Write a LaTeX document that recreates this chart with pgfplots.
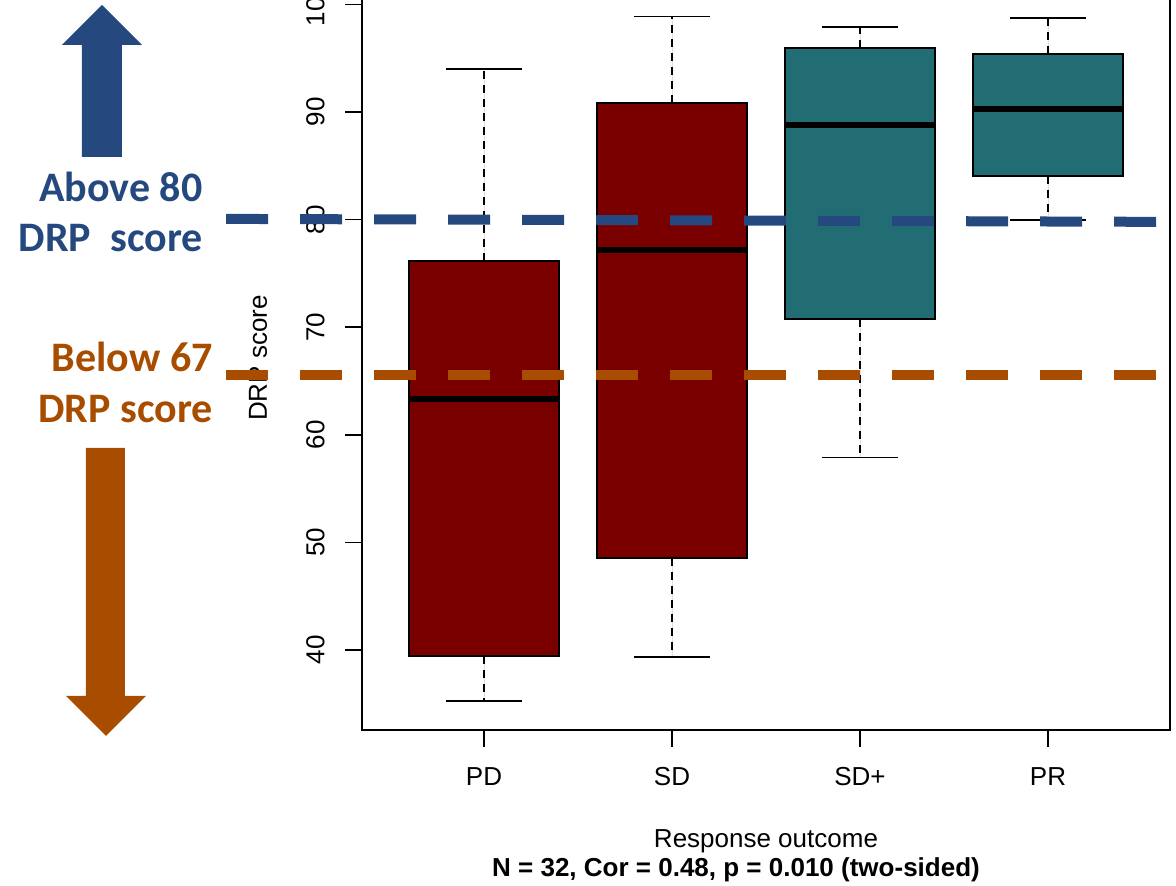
\documentclass[border=0pt]{standalone}
\usepackage{fontspec}
\setmainfont{Liberation Sans}
\newfontfamily\carlito{Carlito}
\usepackage{pgfplots}
\pgfplotsset{compat=1.18}
\usepgfplotslibrary{statistics}

\definecolor{boxred}{HTML}{7A0000}
\definecolor{boxteal}{HTML}{226D74}
\definecolor{lblue}{HTML}{25497F}
\definecolor{lorange}{HTML}{A84C00}

\pgfplotsset{
  boxplot/draw/lower whisker/.code={%
    \draw[black,line width=0.65pt,dash pattern=on 4pt off 3pt]
      (boxplot box cs:\pgfplotsboxplotvalue{lower quartile},0.5) --
      (boxplot box cs:\pgfplotsboxplotvalue{lower whisker},0.5);
    \draw[black,line width=0.65pt,solid]
      (boxplot whisker cs:\pgfplotsboxplotvalue{lower whisker},0) --
      (boxplot whisker cs:\pgfplotsboxplotvalue{lower whisker},1);
  },
  boxplot/draw/upper whisker/.code={%
    \draw[black,line width=0.65pt,dash pattern=on 4pt off 3pt]
      (boxplot box cs:\pgfplotsboxplotvalue{upper quartile},0.5) --
      (boxplot box cs:\pgfplotsboxplotvalue{upper whisker},0.5);
    \draw[black,line width=0.65pt,solid]
      (boxplot whisker cs:\pgfplotsboxplotvalue{upper whisker},0) --
      (boxplot whisker cs:\pgfplotsboxplotvalue{upper whisker},1);
  },
  boxplot/every median/.style={draw=black,line width=3pt},
}

\begin{document}
\begin{tikzpicture}
\begin{scope}[shift={(-181pt,365pt)},x=0.5pt,y=-0.5pt]
  % arrows
  \fill[lblue] (82,157) -- (82,45) -- (62,45) -- (102,5) -- (142,45) -- (122,45) -- (122,157) -- cycle;
  \fill[lorange] (86,448) -- (86,696) -- (66,696) -- (106,736) -- (146,696) -- (125,696) -- (125,448) -- cycle;
  % annotation texts
  \node[anchor=base east,text=lblue,inner sep=0pt,font=\carlito\bfseries\fontsize{21}{25}\selectfont] at (203,202) {Above 80};
  \node[anchor=base east,text=lblue,inner sep=0pt,font=\carlito\bfseries\fontsize{21}{25}\selectfont] at (203,252) {DRP\ \ score};
  \node[anchor=base east,text=lorange,inner sep=0pt,font=\carlito\bfseries\fontsize{21}{25}\selectfont] at (213,372) {Below 67};
  \node[anchor=base east,text=lorange,inner sep=0pt,font=\carlito\bfseries\fontsize{21}{25}\selectfont] at (213,423) {DRP score};
  % y label
  \node[rotate=90,inner sep=0pt,font=\fontsize{13}{15}\selectfont] at (258,358) {DRP score};
  % footer
  \node[anchor=base,inner sep=0pt,font=\bfseries\fontsize{13}{16}\selectfont] at (736,877) {N = 32, Cor = 0.48, p = 0.010 (two-sided)};
\end{scope}

\begin{axis}[
  at={(0,0)}, anchor=south west,
  scale only axis, width=404pt, height=370.9pt,
  xmin=0.351, xmax=4.649, ymin=32.565, ymax=101.5,
  xtick={1,2,3,4}, xticklabels={PD,SD,SD+,PR},
  ytick={40,50,...,100},
  tick align=outside, xtick pos=bottom, ytick pos=left,
  major tick length=8.5pt,
  every tick/.style={black,line width=0.75pt},
  axis line style={black,line width=0.75pt},
  /pgf/number format/assume math mode=true,
  ticklabel style={font=\fontsize{13}{15}\selectfont,inner sep=0pt},
  xticklabel shift=10pt, yticklabel shift=10pt,
  xticklabel style={anchor=north},
  yticklabel style={rotate=90,anchor=south},
  xlabel={Response outcome},
  xlabel style={at={(axis description cs:0.5,0)},anchor=base,yshift=-59pt,font=\fontsize{13}{15}\selectfont,inner sep=0pt},
  boxplot/draw direction=y,
  boxplot/box extend=0.8,
  boxplot/whisker extend=0.4,
]
\addplot[draw=black,fill=boxred,line width=1pt,
  boxplot prepared={draw position=1,lower whisker=35.26,lower quartile=39.44,median=63.33,upper quartile=76.15,upper whisker=94.0}]
  coordinates {};
\addplot[draw=black,fill=boxred,line width=1pt,
  boxplot prepared={draw position=2,lower whisker=39.35,lower quartile=48.55,median=77.17,upper quartile=90.84,upper whisker=98.9}]
  coordinates {};
\addplot[draw=black,fill=boxteal,line width=1pt,
  boxplot prepared={draw position=3,lower whisker=57.9,lower quartile=70.76,median=88.8,upper quartile=95.95,upper whisker=97.9}]
  coordinates {};
\addplot[draw=black,fill=boxteal,line width=1pt,
  boxplot prepared={draw position=4,lower whisker=79.96,lower quartile=84.05,median=90.28,upper quartile=95.4,upper whisker=98.74}]
  coordinates {};
\end{axis}

\begin{axis}[
  at={(0,0)}, anchor=south west,
  scale only axis, width=404pt, height=370.9pt,
  xmin=0.351, xmax=4.649, ymin=32.565, ymax=101.5,
  hide axis, clip=false,
]
\addplot[lblue,line width=5pt,dash pattern=on 21pt off 16pt] coordinates {(-0.372,80.06) (4.681,79.78)};
\addplot[lorange,line width=5pt,dash pattern=on 21pt off 16pt] coordinates {(-0.372,65.56) (4.681,65.56)};
\end{axis}

\pgfresetboundingbox
\path[use as bounding box] (-181pt,365pt) rectangle (407pt,-78pt);
\end{tikzpicture}
\end{document}
